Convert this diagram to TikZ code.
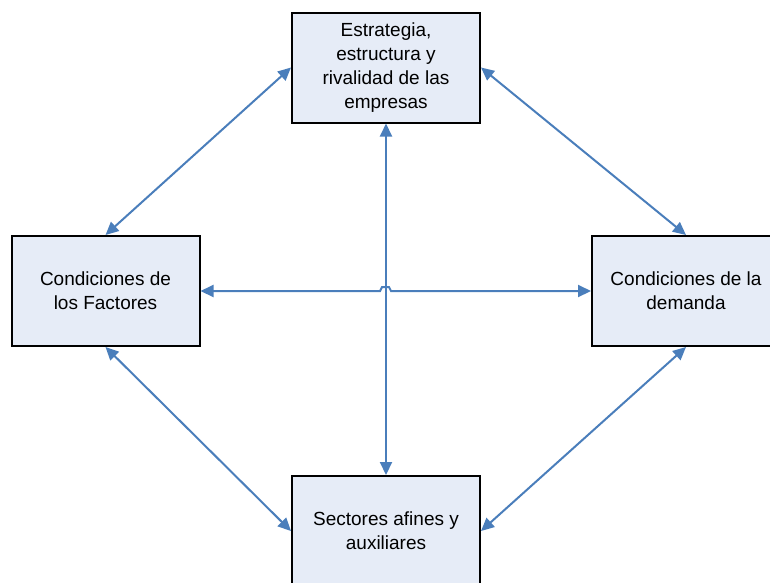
\documentclass[tikz,border=0pt]{standalone}
\usepackage{fontspec}
\setmainfont{Liberation Sans}
\usetikzlibrary{arrows.meta}
\definecolor{linkblue}{HTML}{4A7EBB}
\definecolor{boxfill}{HTML}{E6ECF7}
\begin{document}
\begin{tikzpicture}[x=1pt,y=-1pt,
  factor/.style={draw=black, line width=2pt, fill=boxfill,
    minimum width=188pt, minimum height=110pt, align=center,
    font=\fontsize{19}{24}\selectfont},
  link/.style={draw=linkblue, line width=2pt,
    {Triangle[length=13pt,width=12pt]}-{Triangle[length=13pt,width=12pt]}}
]
\useasboundingbox (0,0) rectangle (770,582);

\node[factor] (estrat) at (386,67.5) {Estrategia,\\estructura y\\rivalidad de las\\empresas};
\node[factor] (fact) at (105.5,291) {Condiciones de\\los Factores};
\node[factor] (dem) at (686,291) {Condiciones de la\\demanda};
\node[factor] (sect) at (386,531) {Sectores afines y\\auxiliares};

\draw[link] (estrat.west) -- (fact.north);
\draw[link] (estrat.east) -- (dem.north);
\draw[link] (fact.south) -- (sect.west);
\draw[link] (dem.south) -- (sect.east);
\draw[link] (estrat.south) -- (sect.north);
\draw[link] (fact.east) -- (380,291) -- ++(2,-4) -- ++(7,0) -- ++(2,4) -- (dem.west);

\end{tikzpicture}
\end{document}
